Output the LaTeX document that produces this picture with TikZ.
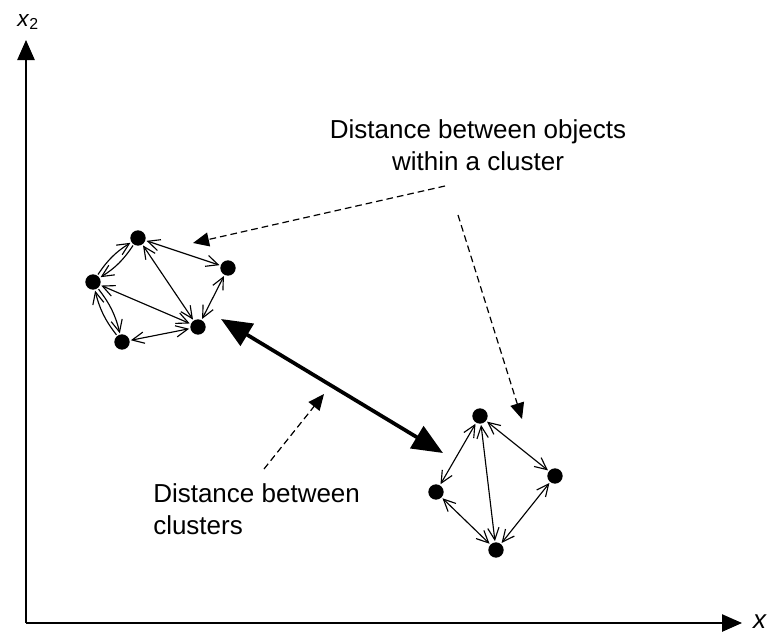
\documentclass[tikz,border=0pt]{standalone}
\usepackage{fontspec}
\setmainfont{Liberation Sans}
\usetikzlibrary{arrows.meta}

\begin{document}
\begin{tikzpicture}[x=0.75pt,y=-0.75pt,
  dot/.style={circle,fill=black,minimum size=11.5pt,inner sep=0pt,outer sep=0pt},
  pair/.style={{Straight Barb[length=9pt,width=8.5pt]}-{Straight Barb[length=9pt,width=8.5pt]},line width=0.85pt,shorten <=1pt,shorten >=1pt},
  half/.style={-{Straight Barb[length=9pt,width=8.5pt]},line width=0.85pt,shorten <=1pt,shorten >=1pt},
  axis/.style={-{Triangle[length=15pt,width=13pt]},line width=1.1pt},
  gap/.style={{Triangle[length=23pt,width=19pt]}-{Triangle[length=23pt,width=19pt]},line width=2.8pt},
  hint/.style={-{Triangle[length=12pt,width=10.5pt]},dash pattern=on 5pt off 3pt,line width=0.9pt},
  note/.style={font=\fontsize{19.5}{24}\selectfont,inner sep=0pt}]

\useasboundingbox (0,0) rectangle (767,636);

\coordinate (o) at (26,623);
\coordinate (xend) at (742,623);
\coordinate (yend) at (26,40);
\draw[axis] (o) -- (xend);
\draw[axis] (o) -- (yend);
\node[note] (xlab) at (760,622) {\textit{x}};
\node[note,font=\fontsize{17}{20}\selectfont] (ylab) at (28,22) {\textit{x}\textsubscript{2}};

\node[dot] (a1) at (138,238) {};
\node[dot] (a2) at (228,268) {};
\node[dot] (a3) at (93,282) {};
\node[dot] (a4) at (198,327) {};
\node[dot] (a5) at (122,342) {};

\draw[pair] (a1) -- (a2);
\draw[pair] (a1) -- (a4);
\draw[pair] (a2) -- (a4);
\draw[pair] (a3) -- (a4);
\draw[pair] (a5) -- (a4);
\draw[half] (a1) to[bend left=12] (a3);
\draw[half] (a3) to[bend left=12] (a1);
\draw[half] (a3) to[bend left=12] (a5);
\draw[half] (a5) to[bend left=12] (a3);

\node[dot] (b1) at (480,416) {};
\node[dot] (b2) at (555,476) {};
\node[dot] (b3) at (436,492) {};
\node[dot] (b4) at (496,550) {};

\draw[pair] (b1) -- (b3);
\draw[pair] (b1) -- (b2);
\draw[pair] (b1) -- (b4);
\draw[pair] (b3) -- (b4);
\draw[pair] (b4) -- (b2);

\coordinate (gapL) at (221,319);
\coordinate (gapR) at (443,453);
\draw[gap] (gapL) -- (gapR);

\node[note,align=center,anchor=north] (within) at (478,119) {Distance between objects\\within a cluster};
\coordinate (w1) at (445,186);
\coordinate (w1tip) at (193,243);
\coordinate (w2) at (458,215);
\coordinate (w2tip) at (522,419);
\draw[hint] (w1) -- (w1tip);
\draw[hint] (w2) -- (w2tip);

\node[note,align=left,anchor=north west] (between) at (153,483) {Distance between\\clusters};
\coordinate (c1) at (264,469);
\coordinate (c1tip) at (324,394);
\draw[hint] (c1) -- (c1tip);
\end{tikzpicture}
\end{document}
